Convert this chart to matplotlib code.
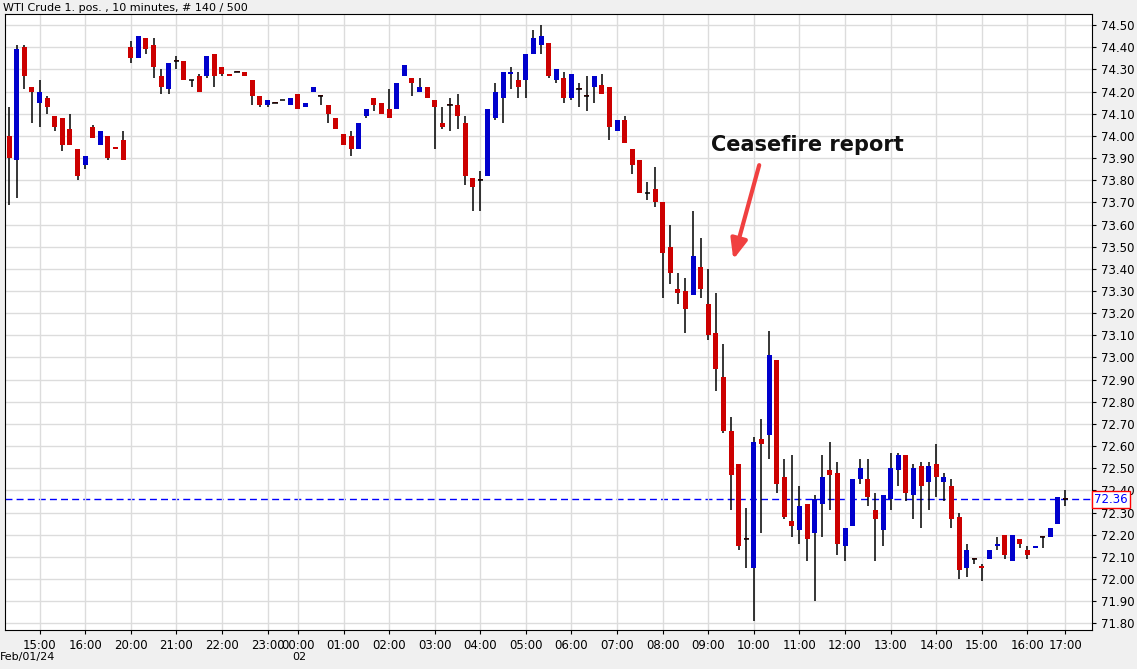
import matplotlib
matplotlib.use("Agg")
import matplotlib.pyplot as plt
import numpy as np

# OHLC per 10-minute bar (open, high, low, close); None high/low -> body only
bars = [
    (74.00, 74.13, 73.69, 73.90), (73.89, 74.41, 73.72, 74.39), (74.40, 74.41, 74.21, 74.27),
    (74.22, 74.22, 74.06, 74.20), (74.15, 74.25, 74.04, 74.20), (74.17, 74.18, 74.10, 74.13),
    (74.09, 74.09, 74.02, 74.04), (74.08, 74.08, 73.93, 73.96), (74.03, 74.10, 73.96, 73.96),
    (73.94, 73.94, 73.80, 73.82), (73.87, 73.91, 73.85, 73.91), (74.04, 74.05, 73.99, 73.99),
    (73.96, 74.02, 73.96, 74.02), (74.00, 74.00, 73.89, 73.90), (73.95, 73.95, 73.94, 73.94),
    (73.98, 74.02, 73.89, 73.89),
    (74.40, 74.43, 74.33, 74.35), (74.35, 74.45, 74.35, 74.45), (74.44, 74.44, 74.37, 74.39),
    (74.41, 74.44, 74.26, 74.31), (74.27, 74.30, 74.19, 74.22), (74.21, 74.33, 74.19, 74.33),
    (74.34, 74.36, 74.30, 74.34), (74.34, 74.34, 74.25, 74.25), (74.25, 74.25, 74.22, 74.25),
    (74.27, 74.28, 74.20, 74.20), (74.27, 74.36, 74.26, 74.36), (74.37, 74.37, 74.22, 74.27),
    (74.31, 74.31, 74.27, 74.28), (74.28, 74.28, 74.27, 74.27), (74.29, 74.29, 74.29, 74.29),
    (74.29, 74.29, 74.27, 74.27), (74.25, 74.25, 74.14, 74.18), (74.18, 74.18, 74.13, 74.14),
    (74.14, 74.16, 74.13, 74.16), (74.15, 74.15, 74.15, 74.15), (74.16, 74.16, 74.16, 74.16),
    (74.14, 74.17, 74.14, 74.17), (74.19, 74.19, 74.12, 74.12), (74.13, 74.15, 74.13, 74.15),
    (74.20, 74.22, 74.20, 74.22), (74.18, 74.18, 74.14, 74.18), (74.14, 74.14, 74.06, 74.10),
    (74.08, 74.08, 74.03, 74.03), (74.01, 74.01, 73.96, 73.96), (74.00, 74.02, 73.91, 73.94),
    (73.94, 74.06, 73.94, 74.06), (74.09, 74.12, 74.08, 74.12), (74.17, 74.17, 74.11, 74.14),
    (74.15, 74.15, 74.10, 74.10), (74.12, 74.21, 74.08, 74.08), (74.12, 74.24, 74.12, 74.24),
    (74.27, 74.32, 74.27, 74.32), (74.26, 74.26, 74.18, 74.24), (74.20, 74.26, 74.20, 74.22),
    (74.22, 74.22, 74.17, 74.17), (74.16, 74.16, 73.94, 74.13), (74.06, 74.13, 74.03, 74.04),
    (74.14, 74.17, 74.02, 74.14), (74.14, 74.19, 74.03, 74.09), (74.06, 74.09, 73.78, 73.82),
    (73.81, 73.81, 73.66, 73.77), (73.80, 73.84, 73.66, 73.80), (73.82, 74.12, 73.82, 74.12),
    (74.08, 74.24, 74.07, 74.20), (74.17, 74.29, 74.06, 74.29), (74.28, 74.31, 74.21, 74.29),
    (74.25, 74.29, 74.17, 74.22), (74.25, 74.37, 74.17, 74.37), (74.37, 74.48, 74.37, 74.44),
    (74.41, 74.50, 74.37, 74.45), (74.42, 74.42, 74.26, 74.27), (74.25, 74.30, 74.24, 74.30),
    (74.26, 74.29, 74.15, 74.17), (74.17, 74.28, 74.16, 74.28), (74.21, 74.24, 74.13, 74.21),
    (74.18, 74.27, 74.11, 74.18), (74.22, 74.27, 74.15, 74.27), (74.23, 74.28, 74.19, 74.19),
    (74.22, 74.22, 73.98, 74.04), (74.02, 74.07, 74.02, 74.07), (74.07, 74.09, 73.97, 73.97),
    (73.94, 73.94, 73.83, 73.87), (73.89, 73.89, 73.74, 73.74), (73.74, 73.79, 73.71, 73.74),
    (73.76, 73.86, 73.68, 73.70), (73.70, 73.70, 73.27, 73.47), (73.50, 73.60, 73.33, 73.38),
    (73.31, 73.38, 73.24, 73.29), (73.30, 73.36, 73.11, 73.22), (73.28, 73.66, 73.28, 73.46),
    (73.41, 73.54, 73.27, 73.31), (73.24, 73.40, 73.08, 73.10), (73.11, 73.29, 72.85, 72.95),
    (72.91, 73.06, 72.66, 72.67), (72.67, 72.73, 72.31, 72.47), (72.52, 72.52, 72.13, 72.15),
    (72.18, 72.32, 72.05, 72.18), (72.05, 72.64, 71.81, 72.62), (72.63, 72.72, 72.21, 72.61),
    (72.65, 73.12, 72.54, 73.01), (72.99, 72.99, 72.39, 72.43), (72.46, 72.54, 72.27, 72.28),
    (72.26, 72.56, 72.19, 72.24), (72.22, 72.42, 72.16, 72.33), (72.34, 72.34, 72.08, 72.18),
    (72.21, 72.38, 71.90, 72.36), (72.34, 72.56, 72.19, 72.46), (72.49, 72.62, 72.31, 72.47),
    (72.48, 72.53, 72.11, 72.16), (72.15, 72.23, 72.08, 72.23), (72.24, 72.45, 72.24, 72.45),
    (72.45, 72.54, 72.43, 72.50), (72.45, 72.54, 72.33, 72.37), (72.31, 72.39, 72.08, 72.27),
    (72.22, 72.38, 72.15, 72.38), (72.36, 72.57, 72.31, 72.50), (72.49, 72.57, 72.42, 72.56),
    (72.56, 72.56, 72.35, 72.39), (72.38, 72.52, 72.27, 72.50), (72.51, 72.53, 72.23, 72.42),
    (72.44, 72.53, 72.31, 72.51), (72.52, 72.61, 72.37, 72.46), (72.44, 72.48, 72.35, 72.46),
    (72.42, 72.45, 72.23, 72.27), (72.28, 72.30, 72.00, 72.04), (72.05, 72.16, 72.01, 72.13),
    (72.09, 72.09, 72.07, 72.09), (72.06, 72.07, 71.99, 72.05), (72.09, 72.13, 72.09, 72.13),
    (72.15, 72.19, 72.13, 72.16), (72.20, 72.20, 72.09, 72.11), (72.08, 72.20, 72.08, 72.20),
    (72.18, 72.18, 72.14, 72.16), (72.13, 72.15, 72.09, 72.11), (72.14, 72.15, 72.14, 72.15),
    (72.19, 72.19, 72.14, 72.19), (72.19, 72.23, 72.19, 72.23), (72.25, 72.37, 72.25, 72.37),
    (72.36, 72.40, 72.33, 72.36),
]
tick_idx = [4, 10, 16, 22, 28, 34, 38, 44, 50, 56, 62, 68, 74, 80, 86, 92, 98, 104, 110,
            116, 122, 128, 134, 139]
tick_labels = ["15:00", "16:00", "20:00", "21:00", "22:00", "23:00", "00:00", "01:00",
               "02:00", "03:00", "04:00", "05:00", "06:00", "07:00", "08:00", "09:00",
               "10:00", "11:00", "12:00", "13:00", "14:00", "15:00", "16:00", "17:00"]
last_price = 72.36

o, h, l, c = (np.array(v) for v in zip(*bars))
x = np.arange(len(bars))

fig = plt.figure(figsize=(11.37, 6.69), dpi=100, facecolor="#f0f0f0")
ax = fig.add_axes([5 / 1137, 39 / 669, 1087 / 1137, 616 / 669])
ax.set_facecolor("white")

up = c > o
ax.vlines(x, l, h, color="black", lw=1.1, zorder=2)
body_lo = np.minimum(o, c)
body_h = np.maximum(np.abs(c - o), 0.004)
ax.bar(x[up], body_h[up], bottom=body_lo[up], width=0.66, color="#0000cc", zorder=3)
ax.bar(x[~up], body_h[~up], bottom=body_lo[~up], width=0.66, color="#cc0000", zorder=3)
flat = np.abs(c - o) < 0.005
ax.hlines(c[flat], x[flat] - 0.35, x[flat] + 0.35, color="black", lw=1.1, zorder=4)

ax.axhline(last_price, color="#0000ff", lw=1, ls=(0, (5, 3)), zorder=1)

ax.set_xlim(-0.55, 142.5)
ax.set_ylim(71.77, 74.55)
ax.set_yticks(np.round(np.arange(71.8, 74.51, 0.1), 2))
ax.yaxis.tick_right()
ax.yaxis.set_major_formatter(matplotlib.ticker.FormatStrFormatter("%.2f"))
ax.set_xticks(tick_idx)
ax.set_xticklabels(tick_labels)
ax.tick_params(labelsize=8.5, length=3, colors="black")
ax.grid(True, color="#dcdcdc", lw=1, zorder=0)
for s in ax.spines.values():
    s.set_color("black")

ax.text(1.002, (last_price - 71.77) / (74.55 - 71.77), f"{last_price:.2f}", transform=ax.transAxes,
        color="#0000ff", fontsize=8.5, va="center", ha="left",
        bbox=dict(boxstyle="square,pad=0.15", fc="white", ec="#ff0000", lw=1))

fig.text(3 / 1137, 1 - 8 / 669, "WTI Crude 1. pos. , 10 minutes, # 140 / 500", fontsize=8, va="center")
fig.text(0 / 1137, 1 - 657 / 669, "Feb/01/24", fontsize=8, va="center")
fig.text(292 / 1137, 1 - 657 / 669, "02", fontsize=8, va="center")

ax.annotate("", xy=(95.2, 73.43), xytext=(98.8, 73.88),
            arrowprops=dict(arrowstyle="-|>,head_width=0.5,head_length=1.2", color="#f04040", lw=3))
ax.text(92.3, 73.96, "Ceasefire report", fontsize=15, fontweight="bold", color="#111111",
        va="center", ha="left")

fig.savefig("out.png", dpi=100, facecolor=fig.get_facecolor())
